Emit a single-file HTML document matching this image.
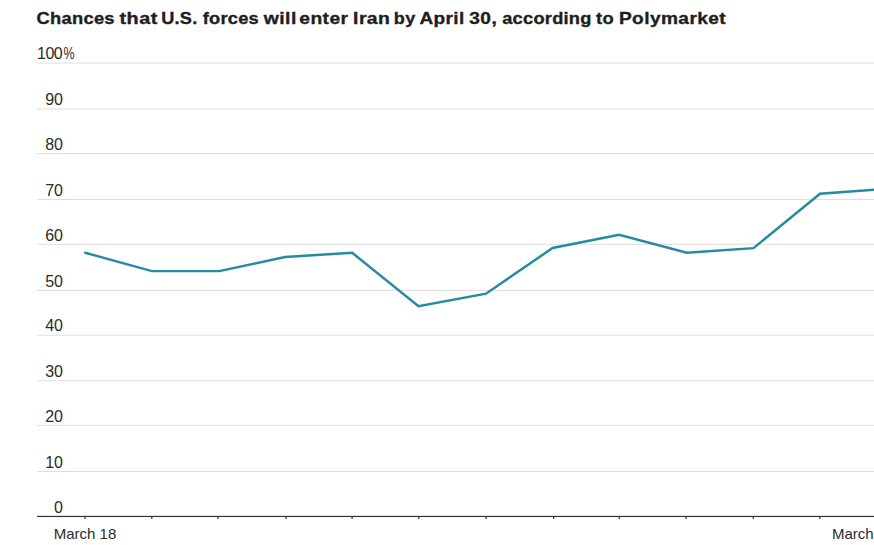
<!DOCTYPE html>
<html>
<head>
<meta charset="utf-8">
<style>
html,body{margin:0;padding:0;background:#fff;}
body{width:874px;height:545px;overflow:hidden;position:relative;font-family:"Liberation Sans",sans-serif;}
svg{position:absolute;left:0;top:0;}
.t{font-family:"Liberation Sans",sans-serif;font-weight:bold;font-size:17px;fill:#1e1e1e;stroke:#1e1e1e;stroke-width:0.35px;}
.y{font-family:"Liberation Sans",sans-serif;font-size:16px;fill:#2b2b2b;}
.x{font-family:"Liberation Sans",sans-serif;font-size:15px;fill:#2b2b2b;}
</style>
</head>
<body>
<svg width="874" height="545" viewBox="0 0 874 545">
  <text class="t" transform="translate(36.42 23.5) scale(1.078 1)" style="letter-spacing:0.28px">Chances</text><text class="t" transform="translate(119.40 23.5) scale(1.165 1)" style="letter-spacing:0.48px">that</text><text class="t" transform="translate(161.23 23.5) scale(1.068 1)" style="letter-spacing:0.22px">U.S.</text><text class="t" transform="translate(202.70 23.5) scale(1.075 1)" style="letter-spacing:0.23px">forces</text><text class="t" transform="translate(263.70 23.5) scale(1.144 1)" style="letter-spacing:0.37px">will</text><text class="t" transform="translate(299.27 23.5) scale(1.132 1)" style="letter-spacing:0.39px">enter</text><text class="t" transform="translate(353.06 23.5) scale(1.14 1)" style="letter-spacing:0.39px">Iran</text><text class="t" transform="translate(393.84 23.5) scale(1.063 1)" style="letter-spacing:0.38px">by</text><text class="t" transform="translate(419.48 23.5) scale(1.12 1)" style="letter-spacing:0.33px">April</text><text class="t" transform="translate(469.20 23.5) scale(1.127 1)" style="letter-spacing:0.43px">30,</text><text class="t" transform="translate(502.20 23.5) scale(1.075 1)" style="letter-spacing:0.23px">according</text><text class="t" transform="translate(596.00 23.5) scale(1.08 1)" style="letter-spacing:0.39px">to</text><text class="t" transform="translate(618.88 23.5) scale(1.124 1)" style="letter-spacing:0.38px">Polymarket</text>
  <g fill="#dddddd"><rect x="37" y="470.90" width="837" height="1"/><rect x="37" y="424.90" width="837" height="1"/><rect x="37" y="380.30" width="837" height="1"/><rect x="37" y="334.70" width="837" height="1"/><rect x="37" y="289.90" width="837" height="1"/><rect x="37" y="243.80" width="837" height="1"/><rect x="37" y="198.90" width="837" height="1"/><rect x="37" y="153.10" width="837" height="1"/><rect x="37" y="108.50" width="837" height="1"/><rect x="37" y="62.55" width="837" height="1"/></g>
  <g class="y"><text x="63.0" y="512.7" text-anchor="end">0</text><text x="63.0" y="467.6" text-anchor="end">10</text><text x="63.0" y="421.6" text-anchor="end">20</text><text x="63.0" y="377.0" text-anchor="end">30</text><text x="63.0" y="331.4" text-anchor="end">40</text><text x="63.0" y="286.6" text-anchor="end">50</text><text x="63.0" y="240.5" text-anchor="end">60</text><text x="63.0" y="195.6" text-anchor="end">70</text><text x="63.0" y="149.8" text-anchor="end">80</text><text x="63.0" y="105.2" text-anchor="end">90</text><text x="37" y="59.2" style="letter-spacing:-0.5px">100</text><text x="0" y="0" transform="translate(63.4 59.2) scale(0.78 1)" text-anchor="start">%</text></g>
  <rect x="37" y="515.85" width="837" height="1.2" fill="#333"/>
  <g fill="#333"><rect x="84.4" y="516" width="1.2" height="3"/><rect x="151.2" y="516" width="1.2" height="3"/><rect x="217.4" y="516" width="1.2" height="3"/><rect x="285.4" y="516" width="1.2" height="3"/><rect x="351.5" y="516" width="1.2" height="3"/><rect x="418.2" y="516" width="1.2" height="3"/><rect x="485.5" y="516" width="1.2" height="3"/><rect x="553.0" y="516" width="1.2" height="3"/><rect x="618.6" y="516" width="1.2" height="3"/><rect x="685.4" y="516" width="1.2" height="3"/><rect x="752.7" y="516" width="1.2" height="3"/><rect x="819.2" y="516" width="1.2" height="3"/></g>
  <g class="x">
    <text x="85" y="538.5" text-anchor="middle">March 18</text>
    <text x="832" y="538.5">March 30</text>
  </g>
  <polyline fill="none" stroke="#258ba1" stroke-width="2.45" stroke-linejoin="miter" points="84.3,252.5 151.8,271.1 219.3,271.1 285,257 352.2,252.8 418.5,306.2 486,293.7 552.6,248 619.1,234.7 686.8,252.7 753.5,248.1 820,193.7 886.6,188.8"/>
</svg>
</body>
</html>
